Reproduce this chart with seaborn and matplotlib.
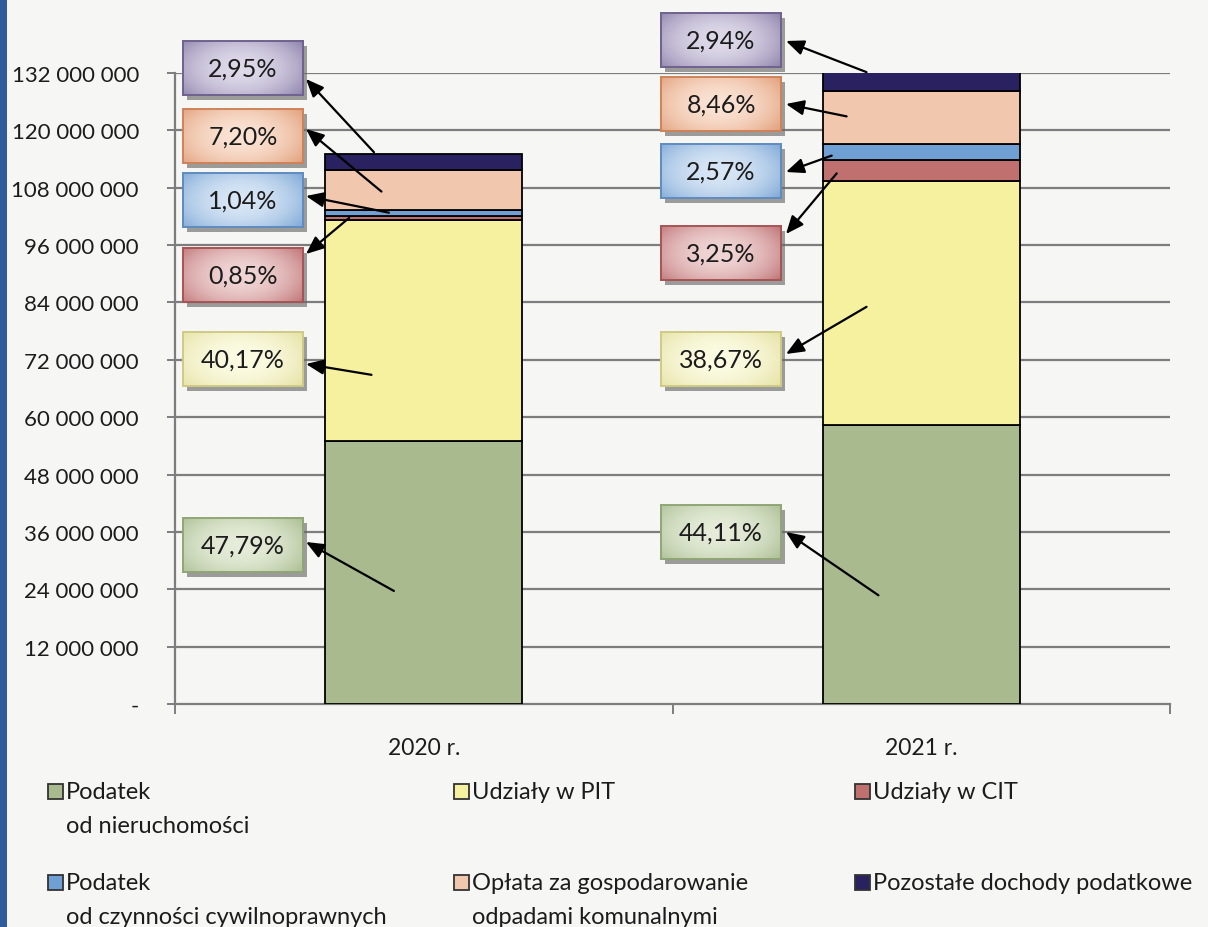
import numpy as np
import pandas as pd
import seaborn as sns
import matplotlib
matplotlib.use("Agg")
from matplotlib import pyplot as plt
from matplotlib.patches import Rectangle
from matplotlib.colors import LinearSegmentedColormap

# --------------------------
# dane
# --------------------------
years = ["2020 r.", "2021 r."]
series = ["Podatek\nod nieruchomości", "Udziały w PIT", "Udziały w CIT",
          "Podatek\nod czynności cywilnoprawnych",
          "Opłata za gospodarowanie\nodpadami komunalnymi",
          "Pozostałe dochody podatkowe"]
nieruchomosci = [55_000_000, 58_300_000]
pit = [46_200_000, 51_100_000]
cit = [980_000, 4_300_000]
pcc = [1_200_000, 3_400_000]
odpady = [8_300_000, 11_200_000]
pozostale = [3_400_000, 3_880_000]
shares_2020 = ["47,79%", "40,17%", "0,85%", "1,04%", "7,20%", "2,95%"]
shares_2021 = ["44,11%", "38,67%", "3,25%", "2,57%", "8,46%", "2,94%"]
yticks = list(range(0, 132_000_001, 12_000_000))

colors = ["#a8ba8e", "#f6f19e", "#c0716f", "#6f9fd3", "#f1c8ae", "#2a2160"]
# kolory ramek z etykietami: jasny środek, ciemniejsze brzegi
box_light = ["#e6edda", "#fcfce4", "#f1d6d6", "#d9e7f6", "#fbe3d4", "#dfdaea"]
box_dark = ["#a9bc90", "#e4e0a0", "#bd6f71", "#7aa5d5", "#e09c76", "#8b7fa9"]
box_edge = ["#90a676", "#cfca84", "#a75456", "#5f8cc1", "#cf8257", "#6f628f"]

sns.set_theme(style="white")
plt.rcParams["font.family"] = ["Lato", "DejaVu Sans"]
bg = "#f6f6f4"
txt_col = "#1c1c1c"

W, H = 1208, 928
fig = plt.figure(figsize=(W / 100, H / 100), dpi=100, facecolor=bg)
# obszar wykresu w pikselach: x 175..1170, y 74..705
AX_L, AX_R, AX_T, AX_B = 175, 1170, 74, 705
ax = fig.add_axes([AX_L / W, 1 - AX_B / H, (AX_R - AX_L) / W, (AX_B - AX_T) / H], facecolor=bg)

values = [nieruchomosci, pit, cit, pcc, odpady, pozostale]
bottom = np.zeros(2)
bottoms = []
for name, vals, col in zip(series, values, colors):
    df = pd.DataFrame({"rok": years, "wartosc": vals})
    sns.barplot(data=df, x="rok", y="wartosc", color=col, width=0.395,
                bottom=bottom.copy(), edgecolor="black", linewidth=1.3,
                saturation=1, ax=ax, zorder=3)
    bottoms.append(bottom.copy())
    bottom = bottom + np.array(vals)

ax.set_xlim(-0.5, 1.5)
ax.set_ylim(0, 132_000_000)
ax.set_yticks(yticks)
ax.set_yticklabels(["-" if v == 0 else f"{v:,}".replace(",", " ") for v in yticks])
ax.set_xlabel("")
ax.set_ylabel("")
ax.grid(False)
for v in yticks[1:]:
    ax.axhline(v, color="#7d7d7d", lw=1.6, zorder=1)
for s in ["top", "right"]:
    ax.spines[s].set_visible(False)
for s in ["left", "bottom"]:
    ax.spines[s].set_color("#7d7d7d")
    ax.spines[s].set_linewidth(1.6)
ax.tick_params(axis="y", direction="out", length=6, width=1.4, color="#7d7d7d",
               labelsize=16, pad=20, labelcolor=txt_col, left=True)
ax.tick_params(axis="x", length=0, labelsize=16.5, pad=24, labelcolor=txt_col)
ax.set_xticks([-0.5, 0.5, 1.5], minor=True)
ax.tick_params(axis="x", which="minor", direction="out", length=7, width=1.4,
               color="#7d7d7d", bottom=True)


# --------------------------
# etykiety z udziałami
# --------------------------
def px_to_axes(px, py):
    return (px - AX_L) / (AX_R - AX_L), (AX_B - py) / (AX_B - AX_T)


BW, BH = 120, 54
box_x = [243, 721]
box_y = [[546, 360, 276, 201, 137, 69], [533, 360, 254, 172, 105, 41]]
head_x = [306, 786]
head_y = [[543, 365, 255, 197, 130, 80], [533, 355, 235, 173, 105, 42]]
tail_dx = [[-0.06, -0.105, -0.15, -0.07, -0.085, -0.10],
           [-0.086, -0.11, -0.17, -0.18, -0.15, -0.11]]
tail_frac = [[0.43, 0.30, 0.5, 0.5, 0.46, 1.1], [0.39, 0.485, 0.37, 0.3, 0.52, 1.0]]

gx = np.linspace(-1, 1, 120)
gy = np.linspace(-1, 1, 54)
GX, GY = np.meshgrid(gx, gy)
# jaśniej w środku, ciemniej przy lewej krawędzi
grad = np.clip(1 - 0.55 * ((GX + 0.15) ** 2) - 0.35 * (GY ** 2) + 0.12 * GX, 0, 1)

for j, shares in enumerate([shares_2020, shares_2021]):
    for i, txt in enumerate(shares):
        cx, cy = box_x[j], box_y[j][i]
        # cień pod ramką
        sh = fig.add_axes([(cx - BW / 2 + 4) / W, 1 - (cy + BH / 2 + 5) / H, BW / W, BH / H])
        sh.set_facecolor("#6a6a6a")
        sh.patch.set_alpha(0.65)
        sh.set_axis_off()
        sh.add_patch(Rectangle((0, 0), 1, 1, transform=sh.transAxes,
                               facecolor="#6a6a6a", alpha=0.65, edgecolor="none"))
        sh.set_zorder(2)

        bax = fig.add_axes([(cx - BW / 2) / W, 1 - (cy + BH / 2) / H, BW / W, BH / H])
        bax.set_zorder(3)
        cmap = LinearSegmentedColormap.from_list("b%d" % i, [box_dark[i], box_light[i]])
        bax.imshow(grad, cmap=cmap, vmin=0, vmax=1, aspect="auto",
                   extent=[0, 1, 0, 1], interpolation="bilinear")
        bax.set_xticks([])
        bax.set_yticks([])
        for s in bax.spines.values():
            s.set_color(box_edge[i])
            s.set_linewidth(1.4)
        bax.text(0.5, 0.5, txt, ha="center", va="center", fontsize=18, color=txt_col,
                 transform=bax.transAxes)

        tx = j + tail_dx[j][i]
        ty = bottoms[i][j] + tail_frac[j][i] * values[i][j]
        ax.annotate("", xy=px_to_axes(head_x[j], head_y[j][i]), xycoords="axes fraction",
                    xytext=(tx, ty), textcoords="data",
                    arrowprops=dict(arrowstyle="-|>,head_length=0.9,head_width=0.38",
                                    color="black", lw=1.6, shrinkA=0, shrinkB=0),
                    annotation_clip=False, zorder=8)

# --------------------------
# legenda
# --------------------------
leg_x = [48, 454, 855]
leg_y = [793, 884]
for k, (name, col) in enumerate(zip(series, colors)):
    px = leg_x[k % 3]
    py = leg_y[k // 3]
    fig.patches.append(Rectangle((px / W, 1 - (py + 7) / H), 15 / W, 15 / H,
                                 transform=fig.transFigure, facecolor=col,
                                 edgecolor="#333333", lw=1.3))
    for n, line in enumerate(name.split("\n")):
        fig.text((px + 18) / W, 1 - (py + n * 34) / H, line, ha="left", va="center",
                 fontsize=17, color=txt_col)

# niebieski pasek na lewej krawędzi skanu
fig.patches.append(Rectangle((0, 0), 7 / W, 1, transform=fig.transFigure,
                             facecolor="#2f5c9c", edgecolor="none"))

plt.savefig("out.png", dpi=100, facecolor=bg)
